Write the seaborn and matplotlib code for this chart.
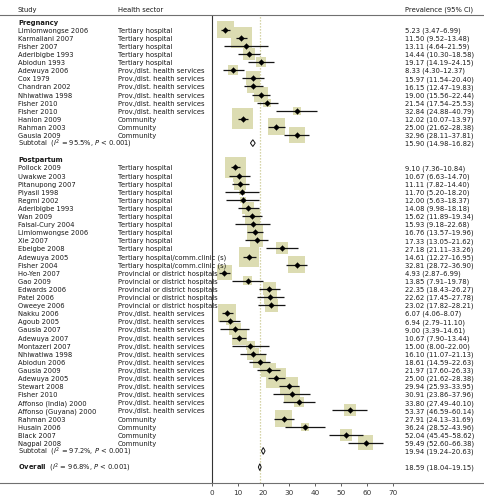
import numpy as np
import pandas as pd
import matplotlib
matplotlib.use("Agg")
import matplotlib.pyplot as plt
from matplotlib.patches import Polygon
import seaborn as sns

# ---- data ----
preg_study = ["Limlomwongse 2006", "Karmaliani 2007", "Fisher 2007", "Aderibigbe 1993",
              "Abiodun 1993", "Adewuya 2006", "Cox 1979", "Chandran 2002",
              "Nhiwatiwa 1998", "Fisher 2010", "Fisher 2010", "Hanlon 2009",
              "Rahman 2003", "Gausia 2009"]
preg_sector = ["Tertiary hospital"] * 5 + ["Prov./dist. health services"] * 6 + ["Community"] * 3
preg_est = [5.23, 11.50, 13.11, 14.44, 19.17, 8.33, 15.97, 16.15, 19.00, 21.54, 32.84, 12.02, 25.00, 32.96]
preg_lo = [3.47, 9.52, 4.64, 10.30, 14.19, 4.30, 11.54, 12.47, 15.56, 17.54, 24.88, 10.07, 21.62, 28.11]
preg_hi = [6.99, 13.48, 21.59, 18.58, 24.15, 12.37, 20.40, 19.83, 22.44, 25.53, 40.79, 13.97, 28.38, 37.81]
preg_weight = [6.4, 9.8, 0.2, 3.2, 2.2, 2.2, 4.4, 3.8, 4.4, 1.4, 1.4, 9.8, 6.4, 5.7]

post_study = ["Pollock 2009", "Uwakwe 2003", "Pitanupong 2007", "Piyasil 1998", "Regmi 2002",
              "Aderibigbe 1993", "Wan 2009", "Faisal-Cury 2004", "Limlomwongse 2006", "Xie 2007",
              "Ebeigbe 2008", "Adewuya 2005", "Fisher 2004", "Ho-Yen 2007", "Gao 2009",
              "Edwards 2006", "Patel 2006", "Oweeye 2006", "Nakku 2006", "Agoub 2005",
              "Gausia 2007", "Adewuya 2007", "Montazeri 2007", "Nhiwatiwa 1998", "Abiodun 2006",
              "Gausia 2009", "Adewuya 2005", "Stewart 2008", "Fisher 2010", "Affonso (India) 2000",
              "Affonso (Guyana) 2000", "Rahman 2003", "Husain 2006", "Black 2007", "Nagpal 2008"]
post_sector = (["Tertiary hospital"] * 11 + ["Tertiary hospital/comm.clinic (s)"] * 2
               + ["Provincial or district hospitals"] * 5 + ["Prov./dist. health services"] * 13
               + ["Community"] * 4)
post_est = [9.10, 10.67, 11.11, 11.70, 12.00, 14.08, 15.62, 15.93, 16.76, 17.33, 27.18, 14.61,
            32.81, 4.93, 13.85, 22.35, 22.62, 23.02, 6.07, 6.94, 9.00, 10.67, 15.00, 16.10,
            18.61, 21.97, 25.00, 29.94, 30.91, 33.80, 53.37, 27.91, 36.24, 52.04, 59.49]
post_lo = [7.36, 6.63, 7.82, 5.20, 5.63, 9.98, 11.89, 9.18, 13.57, 13.05, 21.11, 12.27,
           28.72, 2.87, 7.91, 18.43, 17.45, 17.82, 4.06, 2.79, 3.39, 7.90, 8.00, 11.07,
           14.59, 17.60, 21.62, 25.93, 23.86, 27.49, 46.59, 24.13, 28.52, 45.45, 52.60]
post_hi = [10.84, 14.70, 14.40, 18.20, 18.37, 18.18, 19.34, 22.68, 19.96, 21.62, 33.26, 16.95,
           36.90, 6.99, 19.78, 26.27, 27.78, 28.21, 8.07, 11.10, 14.61, 13.44, 22.00, 21.13,
           22.63, 26.33, 28.38, 33.95, 37.96, 40.10, 60.14, 31.69, 43.96, 58.62, 66.38]
post_weight = [9.8, 3.2, 3.2, 0.8, 0.8, 3.2, 5.0, 2.2, 5.7, 3.8, 3.2, 8.9, 6.4, 5.0, 1.8,
               3.8, 3.8, 3.8, 7.2, 1.4, 3.2, 5.0, 1.8, 3.2, 3.8, 4.4, 8.9, 7.2, 5.7, 2.2,
               3.2, 6.4, 1.4, 3.2, 5.0]

preg_sub = (15.90, 14.98, 16.82)
post_sub = (19.94, 19.24, 20.63)
overall = (18.59, 18.04, 19.15)
preg_i2, post_i2, overall_i2 = "95.5%", "97.2%", "96.8%"

# ---- layout ----
sns.set_theme(style="white")
plt.rcParams['font.family'] = ['Liberation Sans Narrow', 'DejaVu Sans']
plt.rcParams['mathtext.fontset'] = 'custom'
plt.rcParams['mathtext.rm'] = 'Liberation Sans Narrow'
plt.rcParams['mathtext.it'] = 'Liberation Sans Narrow:italic'
plt.rcParams['mathtext.bf'] = 'Liberation Sans Narrow:bold'

preg = pd.DataFrame({"study": preg_study, "sector": preg_sector, "est": preg_est,
                     "lo": preg_lo, "hi": preg_hi, "weight": preg_weight})
preg["row"] = np.arange(1, len(preg) + 1)
post = pd.DataFrame({"study": post_study, "sector": post_sector, "est": post_est,
                     "lo": post_lo, "hi": post_hi, "weight": post_weight})
post["row"] = np.arange(18, 18 + len(post))
studies = pd.concat([preg, post], ignore_index=True)

W, H = 485, 502
fig = plt.figure(figsize=(W / 100, H / 100), dpi=100)
ax = fig.add_axes([0, 1 - 484 / H, 1, (484 - 16) / H])
x0, ppu = 211.7, 2.586  # pixel of 0 and pixels per unit
ax.set_xlim(-x0 / ppu, (W - x0) / ppu)
ax.set_ylim(56.96, -0.815)

for side in ["left", "right"]:
    ax.spines[side].set_visible(False)
for side in ["top", "bottom"]:
    ax.spines[side].set_color("#707070")
    ax.spines[side].set_linewidth(0.8)

ax.axvline(0, color="#333333", lw=0.8, zorder=0)
ax.axvline(overall[0], color="#c9c68c", lw=0.9, ls=(0, (1, 1.4)), zorder=0)

wmin, wmax = studies.weight.min(), studies.weight.max()
k = 23.3
sns.scatterplot(data=studies, x="est", y="row", size="weight", sizes=(wmin * k, wmax * k),
                size_norm=(wmin, wmax), marker="s", color="#dcdcb2", edgecolor="none",
                linewidth=0, legend=False, ax=ax, zorder=1)
ax.hlines(studies.row, studies.lo, studies.hi, color="#151515", lw=0.9, zorder=2)
sns.scatterplot(data=studies, x="est", y="row", marker="D", s=9, color="black",
                edgecolor="black", linewidth=0.2, legend=False, ax=ax, zorder=3)

def diamond(row, est, lo, hi, h=0.42):
    ax.add_patch(Polygon([(lo, row), (est, row - h), (hi, row), (est, row + h)],
                         closed=True, facecolor="white", edgecolor="#111111", lw=0.7, zorder=3))

diamond(15, *preg_sub)
diamond(53, *post_sub)
diamond(55, *overall)

ax.set_xticks(range(0, 80, 10))
ax.set_yticks([])
ax.tick_params(axis="x", bottom=True, direction="out", length=2.5, width=0.6,
               color="#444444", labelsize=5.2, pad=1.5, labelcolor="#333333")
ax.set_xlabel("")
ax.set_ylabel("")

# ---- text columns ----
tr = ax.get_yaxis_transform()
fs = 4.9
col_study, col_sector, col_val = 18 / W, 118 / W, 405 / W
txt = dict(transform=tr, va="center", ha="left", fontsize=fs, color="#1a1a1a", clip_on=False)

ax.text(col_study, -1.55, "Study", **txt)
ax.text(col_sector, -1.55, "Health sector", **txt)
ax.text(col_val, -1.55, "Prevalence (95% CI)", **txt)

ax.text(col_study, 0, "Pregnancy", fontweight="bold", **txt)
ax.text(col_study, 17, "Postpartum", fontweight="bold", **txt)

for _, r in studies.iterrows():
    ax.text(col_study, r.row, r.study, **txt)
    ax.text(col_sector, r.row, r.sector, **txt)
    ax.text(col_val, r.row, f"{r.est:.2f} ({r.lo:.2f}\u2013{r.hi:.2f})", **txt)

def summary(row, label, i2, vals):
    ax.text(col_study, row, label + f"  ($I^2$ = {i2}, $P$ < 0.001)", **txt)
    ax.text(col_val, row, f"{vals[0]:.2f} ({vals[1]:.2f}\u2013{vals[2]:.2f})", **txt)

summary(15, "Subtotal", preg_i2.replace("%", r"\%") if False else preg_i2, preg_sub)
summary(53, "Subtotal", post_i2, post_sub)
summary(55, r"$\mathbf{Overall}$", overall_i2, overall)

fig.savefig("out.png", dpi=100)
